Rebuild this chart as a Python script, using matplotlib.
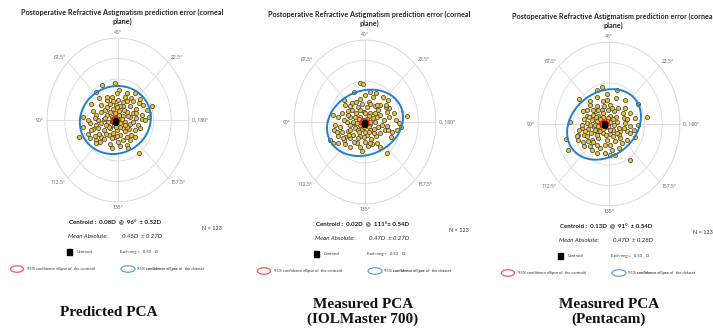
import numpy as np
import matplotlib
matplotlib.use("Agg")
import matplotlib.pyplot as plt
from matplotlib.patches import Ellipse, Rectangle

# ---------------- data (double-angle vector components, dioptres) ----------------
pred_x = [-0.44, -0.09, -0.61, 0.03, 0.26, -0.54, -0.32, -0.16, 0.01, 0.21, 0.14, 0.38, 0.62, 0.59, 0.95,
          -0.75, -0.47, -0.23, -0.06, 0.15, 0.34, 0.52, 0.81, -0.70, -0.37, -0.14, 0.03, 0.26, 0.43, 0.69,
          -0.98, -0.61, -0.32, -0.18, -0.02, 0.15, 0.34, 0.51, 0.67, 0.76, -0.80, -0.63, -0.47, -0.28, -0.12,
          0.05, 0.19, 0.34, 0.57, -0.70, -0.56, -0.40, -0.23, -0.04, 0.13, 0.31, 0.48, -1.10, -0.84, -0.65,
          -0.49, -0.26, -0.09, 0.07, 0.26, 0.36, -0.80, -0.61, -0.40, -0.18, 0.01, 0.34, -0.23, 0.05, 0.24,
          0.29, -0.18, 0.60, -0.56, -0.40, -0.09, 0.05, -0.30, -0.75, -0.98, 0.43, 0.24, -0.14, -0.53, -0.34,
          -0.14, 0.19, 0.48, 0.86, -0.61, -0.02, 0.10, -0.25, 0.24, 0.52, -0.18, 0.03, -0.06, 0.17, -0.34,
          0.41, -0.47, 0.71, -0.65, -0.02, 0.13, -0.32, 0.48, -0.15, 0.05, -0.37, 0.29, -0.23, -0.04, 0.19,
          -0.51, 0.62, -0.84]
pred_y = [0.85, 0.91, 0.68, 0.73, 0.65, 0.53, 0.49, 0.57, 0.50, 0.57, 0.45, 0.53, 0.51, 0.42, 0.33,
          0.39, 0.37, 0.39, 0.37, 0.34, 0.33, 0.28, 0.24, 0.23, 0.24, 0.26, 0.22, 0.20, 0.18, 0.12,
          0.07, 0.12, 0.12, 0.08, 0.07, 0.10, 0.07, 0.04, 0.02, 0.00, -0.08, -0.12, -0.08, -0.04, -0.12,
          -0.08, -0.06, -0.10, -0.12, -0.23, -0.20, -0.24, -0.20, -0.24, -0.20, -0.23, -0.24, -0.41, -0.35, -0.39,
          -0.41, -0.37, -0.41, -0.37, -0.41, -0.37, -0.45, -0.49, -0.47, -0.45, -0.53, -0.49, -0.59, -0.63, -0.61,
          -0.69, -0.69, -0.80, 0.00, 0.02, 0.18, 0.33, 0.31, -0.24, -0.18, 0.47, 0.47, 0.47, -0.33, -0.33,
          -0.31, -0.28, -0.41, 0.07, -0.57, 0.65, 0.02, -0.16, -0.18, 0.16, -0.02, 0.12, -0.16, 0.24, -0.12,
          -0.04, 0.20, 0.37, 0.04, -0.39, -0.49, 0.57, 0.65, -0.04, -0.16, 0.04, 0.10, 0.20, 0.31, -0.12,
          -0.53, -0.20, 0.00]

iol_x = [-0.15, -0.06, -0.30, 0.13, 0.32, -0.58, -0.13, 0.11, 0.28, 0.51, 0.64, 0.68, 0.43, -0.37, -0.08,
         0.15, -0.89, -0.49, -0.25, -0.04, 0.15, 0.36, 0.58, 0.83, 1.17, -0.75, -0.43, -0.27, -0.13, 0.10,
         0.34, 0.53, 0.86, 0.95, -0.84, -0.70, -0.43, -0.30, -0.15, 0.15, 0.36, 0.62, -0.87, -0.65, -0.49,
         -0.27, -0.08, 0.10, 0.26, 0.55, 0.91, -0.75, -0.56, -0.34, -0.15, 0.06, 0.32, -0.98, -0.89, -0.58,
         -0.42, -0.21, 0.17, -0.56, 0.01, 0.20, 0.42, -0.13, 0.08, -0.08, 0.62, -0.23, -0.51, 0.29, -0.37,
         -0.21, 0.06, 0.23, -0.21, 0.43, -0.60, 0.67, 0.15, -0.42, 0.01, -0.32, 0.34, -0.56, 0.01, 0.72,
         -0.02, -0.13, 0.15, 0.43, -0.65, -0.42, -0.34, -0.18, 0.01, 0.48, 0.76, -0.75, 0.64, 0.29, 0.06,
         -0.25, -0.46, 0.25, -0.79, -0.13, 0.58, -0.23, 0.13, 0.34, -0.04, -0.49, 0.23, -0.62, 0.62, -0.18,
         -0.42, 0.10, 1.00]
iol_y = [0.94, 0.92, 0.72, 0.74, 0.70, 0.54, 0.55, 0.50, 0.39, 0.62, 0.54, 0.33, 0.41, 0.46, 0.44,
         0.44, 0.17, 0.28, 0.23, 0.25, 0.23, 0.29, 0.36, 0.21, 0.15, 0.11, 0.11, 0.13, 0.11, 0.15,
         0.11, 0.05, 0.05, -0.03, -0.07, -0.13, -0.07, -0.02, -0.07, -0.06, -0.11, -0.10, -0.20, -0.24, -0.21,
         -0.15, -0.18, -0.13, -0.18, -0.20, -0.20, -0.34, -0.36, -0.32, -0.34, -0.32, -0.34, -0.44, -0.50, -0.44,
         -0.40, -0.40, -0.42, -0.54, -0.48, -0.54, -0.60, -0.60, -0.59, -0.70, -0.76, -0.52, 0.01, 0.01, 0.29,
         0.36, 0.07, 0.09, -0.20, -0.28, 0.05, 0.13, -0.20, -0.20, 0.21, -0.48, -0.52, 0.41, 0.66, -0.36,
         -0.11, 0.01, 0.01, 0.17, 0.21, -0.60, 0.01, -0.24, -0.24, -0.07, -0.24, -0.52, -0.20, 0.21, 0.37,
         0.50, -0.32, -0.28, -0.24, 0.29, 0.41, -0.03, -0.50, 0.41, -0.36, 0.17, 0.62, -0.40, 0.25, 0.07,
         0.39, -0.24, -0.11]

pen_x = [-0.21, -0.33, -0.05, 0.22, -0.84, -0.54, -0.16, 0.20, 0.45, 0.83, -0.33, 0.03, 0.24, 0.45, -0.61,
         -0.39, -0.21, -0.02, 0.14, -0.61, -0.44, -0.30, -0.16, 0.03, 0.20, 0.43, 0.74, 1.07, -1.10, -0.71,
         -0.49, -0.33, -0.23, 0.03, 0.22, 0.45, 0.60, -0.77, -0.58, -0.42, -0.25, -0.05, 0.12, 0.31, 0.50,
         0.71, -1.21, -0.87, -0.71, -0.52, -0.35, -0.16, 0.03, 0.27, 0.74, -0.74, -0.49, -0.30, -0.06, 0.17,
         -1.15, -0.71, -0.54, -0.33, -0.11, 0.27, -0.11, 0.08, 0.17, 0.58, -0.87, -0.63, -0.39, -0.08, 0.03,
         -0.25, 0.39, 0.27, -0.44, 0.03, -0.30, 0.12, -0.54, -0.67, -0.02, -0.37, -0.16, -0.55, 0.60, -0.84,
         0.60, 0.50, -0.06, -0.35, -0.58, -0.25, 0.31, 0.12, -0.77, 0.41, -0.46, -0.18, 0.08, -0.63, -0.33,
         -0.08, 0.14, -0.06, -0.25, -0.02, -0.39, 0.22, 0.50, -0.91, 0.83, -0.54, -0.30, -0.13, 0.36, -0.49,
         0.03, -0.74, -0.35]
pen_y = [0.90, 0.84, 0.72, 0.82, 0.62, 0.55, 0.55, 0.63, 0.58, 0.50, 0.45, 0.47, 0.39, 0.39, 0.33,
         0.31, 0.35, 0.33, 0.31, 0.20, 0.23, 0.19, 0.17, 0.20, 0.17, 0.15, 0.15, 0.17, 0.04, 0.12,
         0.09, 0.07, 0.01, 0.04, 0.04, 0.02, -0.06, -0.10, -0.12, -0.07, -0.10, -0.07, -0.14, -0.18, -0.18,
         -0.14, -0.37, -0.26, -0.28, -0.22, -0.20, -0.22, -0.24, -0.28, -0.32, -0.45, -0.38, -0.34, -0.38, -0.42,
         -0.63, -0.54, -0.54, -0.50, -0.50, -0.59, -0.71, -0.63, -0.75, -0.87, -0.38, -0.30, -0.02, -0.02, -0.14,
         -0.18, 0.27, -0.10, -0.45, -0.50, 0.35, 0.11, -0.02, -0.18, 0.15, 0.17, -0.12, 0.17, -0.22, -0.14,
         0.28, -0.38, 0.59, 0.67, -0.42, -0.59, -0.34, -0.30, -0.02, -0.10, 0.35, 0.27, 0.39, 0.02, -0.28,
         -0.28, -0.02, 0.07, 0.11, -0.06, -0.14, -0.22, 0.11, -0.30, -0.02, 0.47, -0.06, 0.43, -0.46, -0.63,
         -0.75, 0.31, -0.71]

# 95% ellipse of dataset: centre x, centre y, semi-axis a, semi-axis b, tilt (deg)
data_ell = [(-0.075, 0.00, 1.005, 0.824, 10), (0.00, -0.02, 1.088, 0.786, 15), (-0.14, -0.01, 1.085, 0.803, 25)]
# centroid: magnitude (D) and axis (deg); 95% ellipse of centroid semi-axes
centroid_mag = [0.08, 0.02, 0.13]
centroid_axis = [96, 111, 91]
cent_ell = [(0.11, 0.09), (0.11, 0.09), (0.11, 0.09)]

centroid_txt = ["Centroid :  0.08D  @  96°  ± 0.52D",
                "Centroid :  0.02D  @  111°± 0.54D",
                "Centroid :  0.13D  @  91°  ± 0.54D"]
mean_abs_val = ["0.45D  ± 0.27D", "0.47D  ± 0.27D", "0.47D  ± 0.28D"]
n_txt = ["N = 123", "N = 123", "N = 123"]
big_titles = ["Predicted PCA", "Measured PCA\n(IOLMaster 700)", "Measured PCA\n(Pentacam)"]
chart_title = "Postoperative Refractive Astigmatism prediction error (corneal\nplane)"
theta_labels = ["0, 180°", "22.5°", "45°", "67.5°", "90°", "112.5°", "135°", "157.5°"]
theta_pos = [0, 45, 90, 135, 180, 225, 270, 315]
rings = [0.5, 1.0, 1.5, 2.0]

datasets = [(pred_x, pred_y), (iol_x, iol_y), (pen_x, pen_y)]

# ---------------- layout ----------------
W, H = 713, 333
fig = plt.figure(figsize=(W / 100, H / 100), dpi=100)
fig.patch.set_facecolor("white")

# overlay axes for free text (chained annotations)
tax = fig.add_axes([0, 0, 1, 1])
tax.axis("off")
tax.set_zorder(5)


def fx(x):
    return x / W


def fy(y):
    return 1 - y / H


offs_x = [0, 247, 491]
offs_y = [0, 2, 4]
GRID = "#d9d9d9"
SANS = ["Lato", "DejaVu Sans"]
TXT = "#333333"

for i in range(3):
    dx, dy = offs_x[i], offs_y[i]
    cx, cy = 118 + dx, 120 + dy
    ax = fig.add_axes([fx(cx - 71), fy(cy + 82), 142 / W, 164 / H], projection="polar")
    ax.set_aspect("auto")
    xs, ys = np.array(datasets[i][0]), np.array(datasets[i][1])
    ax.scatter(np.arctan2(ys, xs), np.hypot(xs, ys), s=9, c="#EBC043",
               edgecolors="#3d3a30", linewidths=0.5, zorder=3)

    # dataset ellipse
    ex0, ey0, a, b, ang = data_ell[i]
    t = np.linspace(0, 2 * np.pi, 300)
    p = np.deg2rad(ang)
    ex = ex0 + a * np.cos(t) * np.cos(p) - b * np.sin(t) * np.sin(p)
    ey = ey0 + a * np.cos(t) * np.sin(p) + b * np.sin(t) * np.cos(p)
    ax.plot(np.unwrap(np.arctan2(ey, ex)), np.hypot(ex, ey), color="#1f80d2", lw=1.4, zorder=4)

    # centroid ellipse + centroid
    th_c = np.deg2rad(2 * centroid_axis[i])
    ccx, ccy = centroid_mag[i] * np.cos(th_c), centroid_mag[i] * np.sin(th_c)
    ca, cb = cent_ell[i]
    rx = ccx + ca * np.cos(t)
    ry = ccy + cb * np.sin(t)
    ax.plot(np.unwrap(np.arctan2(ry, rx)), np.hypot(rx, ry), color="#e3241b", lw=1.4, zorder=5)
    ax.plot([th_c], [centroid_mag[i]], marker="s", ms=3.6, color="black", zorder=6)

    ax.set_rlim(0, rings[-1])
    ax.set_rticks(rings)
    ax.set_yticklabels([])
    ax.set_thetagrids(theta_pos, [""] * len(theta_pos))
    ax.tick_params(axis="x", length=0)
    ax.grid(color=GRID, lw=0.6)
    ax.spines["polar"].set_color(GRID)
    ax.spines["polar"].set_linewidth(0.6)

    # angle labels, anchored to the outer ring
    for deg, lab in zip(theta_pos, theta_labels):
        c, s = np.cos(np.deg2rad(deg)), np.sin(np.deg2rad(deg))
        ha = "left" if c > 0.1 else ("right" if c < -0.1 else "center")
        va = "bottom" if s > 0.1 else ("top" if s < -0.1 else "center")
        ax.annotate(lab, xy=(np.deg2rad(deg), rings[-1]), xytext=(2.2 * c, 2.0 * s),
                    textcoords="offset points", ha=ha, va=va, fontsize=3.6, color="#595959",
                    family=["Open Sans", "DejaVu Sans"], annotation_clip=False)

    # chart title
    tax.text(fx(122.5 + dx), fy(9 + dy), chart_title, ha="center", va="top", fontsize=5.2,
             fontweight="bold", family=SANS, color="#262626", linespacing=1.2,
             transform=fig.transFigure)

    # stats
    tax.text(fx(115.5 + dx), fy(223 + dy), centroid_txt[i], ha="center", va="center",
             fontsize=4.4, fontweight="bold", family=SANS, color="#1a1a1a", transform=fig.transFigure)
    tax.text(fx(68 + dx), fy(237 + dy), "Mean Absolute:", ha="left", va="center",
             fontsize=4.4, style="italic", family=SANS, color="#262626", transform=fig.transFigure)
    tax.text(fx(122 + dx), fy(237 + dy), mean_abs_val[i], ha="left", va="center",
             fontsize=4.4, style="italic", family=SANS, color="#262626", transform=fig.transFigure)
    tax.text(fx(202 + dx), fy(229 + dy), n_txt[i], ha="left", va="center",
             fontsize=4.0, family=SANS, color="#262626", transform=fig.transFigure)

    # legend row 1
    fig.add_artist(Rectangle((fx(67 + dx), fy(255 + dy)), 5 / W, 6 / H, transform=fig.transFigure,
                             color="black"))
    tax.text(fx(77 + dx), fy(252 + dy), "Centroid", ha="left", va="center", fontsize=3.0,
             family=SANS, color=TXT, transform=fig.transFigure)
    tax.text(fx(120 + dx), fy(252 + dy), "Each ring =   0.50    D", ha="left", va="center",
             fontsize=3.0, family=SANS, color=TXT, transform=fig.transFigure)
    # legend row 2
    fig.add_artist(Ellipse((fx(17 + dx), fy(269 + dy)), 13 / W, 6.5 / H, transform=fig.transFigure,
                           fill=False, ec="#ef5a5a", lw=0.9))
    tax.text(fx(27 + dx), fy(269 + dy), "95% confidence ellipse of  the centroid", ha="left",
             va="center", fontsize=2.9, family=SANS, color=TXT, transform=fig.transFigure)
    fig.add_artist(Ellipse((fx(128 + dx), fy(269 + dy)), 14 / W, 6.5 / H, transform=fig.transFigure,
                           fill=False, ec="#5aa2e0", lw=0.9))
    t1 = tax.annotate("95% ", xy=(fx(137 + dx), fy(269 + dy)), xycoords="figure fraction",
                      ha="left", va="center", fontsize=2.9, family=SANS, color=TXT)
    t2 = tax.annotate("confidence ellipse", xy=(1, 0), xycoords=t1, ha="left", va="bottom",
                      fontsize=2.9, family=SANS, fontweight="bold", color=TXT)
    tax.annotate(" of  the dataset", xy=(1, 0), xycoords=t2, ha="left", va="bottom",
                 fontsize=2.9, family=SANS, color=TXT)

# big titles
title_x = [109, 363, 609]
for i in range(3):
    tax.text(fx(title_x[i]), fy(312), big_titles[i], ha="center", va="center", fontsize=11,
             fontweight="bold", family=["Liberation Serif", "DejaVu Serif"], color="#111111",
             linespacing=1.1, transform=fig.transFigure)

fig.savefig("out.png", dpi=100, facecolor="white")
